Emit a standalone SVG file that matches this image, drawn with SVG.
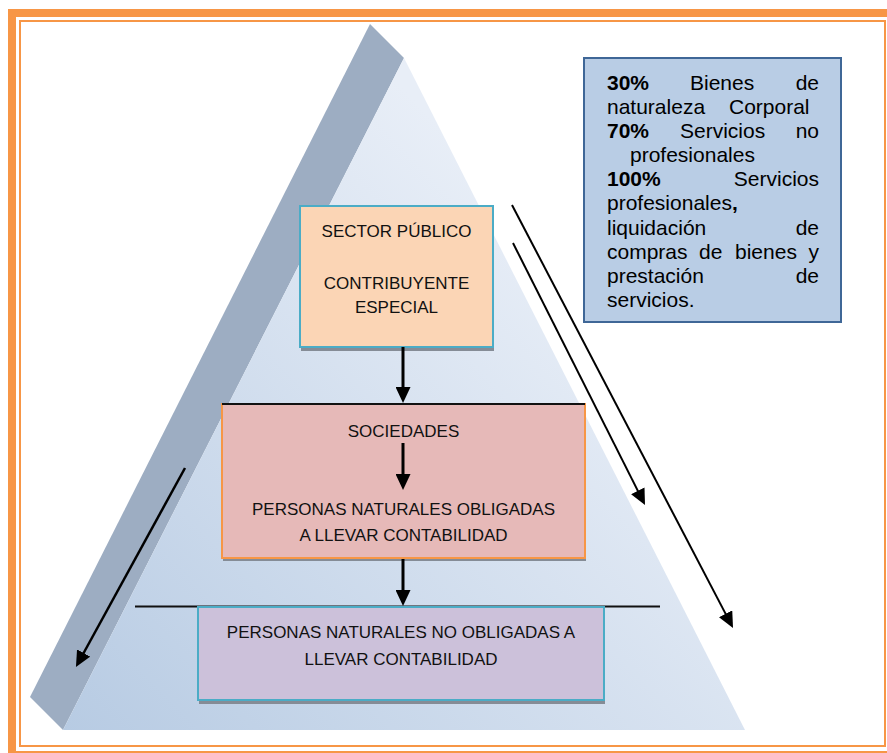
<svg xmlns="http://www.w3.org/2000/svg" width="887" height="753" viewBox="0 0 887 753">
<defs>
<style>
.box{font-family:"Liberation Sans",Arial,sans-serif;font-size:17px;fill:#111;text-anchor:middle}
.info{font-family:"Liberation Sans",Arial,sans-serif;font-size:21px;fill:#000}
.b{font-weight:bold}
.e{text-anchor:end}
.arrow{stroke:#000;fill:none;marker-end:url(#ah)}
.sep{stroke:#111;stroke-width:2}
.shadow{fill:#858c96}
</style>
<linearGradient id="pyr" gradientUnits="userSpaceOnUse" x1="63" y1="730" x2="560" y2="250">
<stop offset="0" stop-color="#b7cbe3"/>
<stop offset="1" stop-color="#e8eef7"/>
</linearGradient>
<marker id="ah" markerUnits="userSpaceOnUse" markerWidth="16" markerHeight="15" refX="8" refY="7.5" orient="auto">
<path d="M0,0 L16,7.5 L0,15 z" fill="#000"/>
</marker>
</defs>
<rect width="887" height="753" fill="#fff"/>
<g id="frame" fill="none" stroke="#f79646">
<rect x="12" y="13" width="882" height="742" stroke-width="8"/>
<rect x="20" y="21" width="865" height="725" stroke-width="2"/>
</g>
<g id="pyramid">
<polygon points="370,24 404,58 63,730 30,697" fill="#9dadc2"/>
<polygon points="404,58 745,730 63,730" fill="url(#pyr)"/>
</g>
<g id="lines">
<line class="sep" x1="222" y1="404" x2="585" y2="404"/>
<line class="sep" x1="135" y1="606.5" x2="660" y2="606.5"/>
</g>
<g id="node-sector-publico">
<rect class="shadow" x="301" y="210" width="193" height="141"/>
<rect x="300" y="206" width="193" height="141" fill="#fbd5b5" stroke="#4bacc6" stroke-width="2"/>
<text class="box" x="396.5" y="237">SECTOR PÚBLICO</text>
<text class="box" x="396.5" y="289">CONTRIBUYENTE</text>
<text class="box" x="396.5" y="313">ESPECIAL</text>
</g>
<g id="node-sociedades">
<rect class="shadow" x="223" y="407" width="363" height="154"/>
<rect x="222" y="404" width="363" height="154" fill="#e6b9b8" stroke="#f79646" stroke-width="2"/>
<line class="sep" x1="222" y1="404" x2="585" y2="404"/>
<text class="box" x="403.5" y="437">SOCIEDADES</text>
<text class="box" x="403.5" y="515">PERSONAS NATURALES OBLIGADAS</text>
<text class="box" x="403.5" y="541">A LLEVAR CONTABILIDAD</text>
</g>
<g id="node-no-obligadas">
<rect class="shadow" x="199" y="611" width="406" height="93"/>
<rect x="198" y="607" width="406" height="93" fill="#ccc1da" stroke="#4bacc6" stroke-width="2"/>
<text class="box" x="401" y="638">PERSONAS NATURALES NO OBLIGADAS A</text>
<text class="box" x="401" y="665">LLEVAR CONTABILIDAD</text>
</g>
<g id="node-info">
<rect x="584" y="58" width="257" height="264" fill="#b9cde5" stroke="#3f6797" stroke-width="2"/>
<text class="info b" x="607" y="90">30%</text>
<text class="info" x="690" y="90">Bienes</text>
<text class="info e" x="819" y="90">de</text>
<text class="info" x="607" y="114">naturaleza</text>
<text class="info" x="729" y="114">Corporal</text>
<text class="info b" x="607" y="138">70%</text>
<text class="info" x="680" y="138">Servicios</text>
<text class="info e" x="819" y="138">no</text>
<text class="info" x="630" y="162">profesionales</text>
<text class="info b" x="607" y="186">100%</text>
<text class="info e" x="819" y="186">Servicios</text>
<text class="info" x="607" y="210">profesionales<tspan class="b">,</tspan></text>
<text class="info" x="607" y="235">liquidación</text>
<text class="info e" x="819" y="235">de</text>
<text class="info" x="607" y="259">compras</text>
<text class="info" x="699" y="259">de</text>
<text class="info" x="735" y="259">bienes</text>
<text class="info e" x="819" y="259">y</text>
<text class="info" x="607" y="283">prestación</text>
<text class="info e" x="819" y="283">de</text>
<text class="info" x="607" y="307">servicios.</text>
</g>
<g id="connectors">
<line class="arrow" stroke-width="3" x1="403" y1="347" x2="403" y2="395"/>
<line class="arrow" stroke-width="3" x1="403" y1="443" x2="403" y2="482"/>
<line class="arrow" stroke-width="3" x1="403" y1="559" x2="403" y2="598"/>
<line class="arrow" stroke-width="2.5" x1="185" y1="468" x2="79.8" y2="660"/>
<line class="arrow" stroke-width="2" x1="512" y1="205" x2="729.3" y2="620.9"/>
<line class="arrow" stroke-width="2" x1="513" y1="243" x2="641.4" y2="497.9"/>
</g>
</svg>
